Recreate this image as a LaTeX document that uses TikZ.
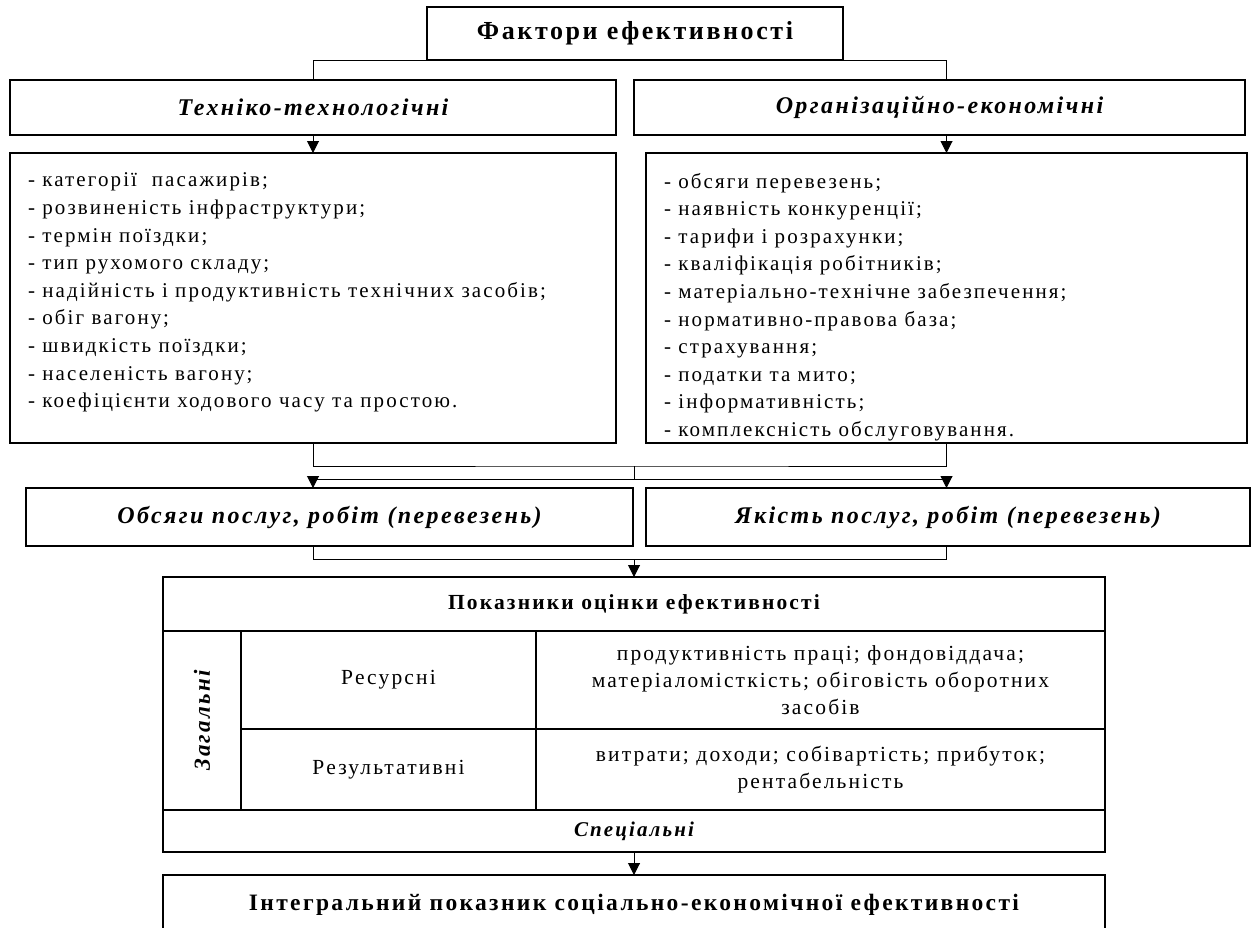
\documentclass[tikz,border=0pt]{standalone}
\usepackage{fontspec}
\setmainfont{Liberation Serif}[LetterSpace=10]
\usetikzlibrary{positioning}
\usetikzlibrary{arrows.meta}

\begin{document}
\begin{tikzpicture}[x=1pt,y=-1pt,>={Triangle[length=12pt,width=12pt]},
	box/.style={draw, line width=1.3pt, inner sep=0pt, outer sep=0pt},
	link/.style={line width=1pt},
	head node/.style={box, font=\fontsize{24}{28}\selectfont\bfseries\itshape},
	list node/.style={box, minimum height=290pt, font=\fontsize{21}{27.6}\selectfont},
	cell node/.style={box, align=center, font=\fontsize{21.5}{27}\selectfont}]
	\useasboundingbox (0,0) rectangle (1255,927);
	\clip (0,0) rectangle (1255,927);
	
	% Nodes
	\node[box, minimum width=416pt, minimum height=53pt, font=\fontsize{26}{30}\selectfont\bfseries] (fact) at (635,33.5) {Фактори ефективності};
	\node[head node, minimum width=606pt, minimum height=55pt] (tech) at (313,107.5) {Техніко-технологічні};
	\node[head node, minimum width=611pt, minimum height=55pt] (org) at (939.5,107.5) {Організаційно-економічні};
	
	\node[list node, minimum width=606pt] (techlist) at (313,298) {\parbox[c][290pt][t]{570pt}{\raggedright\vspace*{20pt}%
		- категорії\ \ пасажирів;\\
		- розвиненість інфраструктури;\\
		- термін поїздки;\\
		- тип рухомого складу;\\
		- надійність і продуктивність технічних засобів;\\
		- обіг вагону;\\
		- швидкість поїздки;\\
		- населеність вагону;\\
		- коефіцієнти ходового часу та простою.}};
	\node[list node, minimum width=601pt] (orglist) at (946.5,298) {\parbox[c][290pt][t]{565pt}{\raggedright\vspace*{20pt}%
		- обсяги перевезень;\\
		- наявність конкуренції;\\
		- тарифи і розрахунки;\\
		- кваліфікація робітників;\\
		- матеріально-технічне забезпечення;\\
		- нормативно-правова база;\\
		- страхування;\\
		- податки та мито;\\
		- інформативність;\\
		- комплексність обслуговування.}};
	
	\node[head node, minimum width=607pt, minimum height=58pt] (vol) at (329.5,517) {Обсяги послуг, робіт (перевезень)};
	\node[head node, minimum width=604pt, minimum height=58pt] (qual) at (948,517) {Якість послуг, робіт (перевезень)};
	
	% Table
	\node[box, minimum width=942pt, minimum height=54pt, font=\fontsize{21.5}{25}\selectfont\bfseries] (thead) at (634,604) {Показники оцінки ефективності};
	\node[box, rotate=90, minimum width=179pt, minimum height=78pt, font=\fontsize{23}{27}\selectfont\bfseries\itshape] (zag) at (202,720.5) {Загальні};
	\node[cell node, minimum width=295pt, minimum height=98pt] (res) at (388.5,680) {Ресурсні};
	\node[cell node, minimum width=569pt, minimum height=98pt] (resv) at (820.5,680) {продуктивність праці; фондовіддача;\\ матеріаломісткість; обіговість оборотних\\ засобів};
	\node[cell node, minimum width=295pt, minimum height=81pt] (rez) at (388.5,769.5) {Результативні};
	\node[cell node, minimum width=569pt, minimum height=81pt] (rezv) at (820.5,769.5) {витрати; доходи; собівартість; прибуток;\\ рентабельність};
	\node[box, minimum width=942pt, minimum height=42pt, font=\fontsize{21}{25}\selectfont\bfseries\itshape] (spec) at (634,831) {Спеціальні};
	
	\node[box, minimum width=942pt, minimum height=60pt, font=\fontsize{23.5}{27}\selectfont\bfseries] (integ) at (634,905) {Інтегральний показник соціально-економічної ефективності};
	
	\coordinate (j1) at (634,466);
	\coordinate (j2) at (634,479);
	\coordinate (j3) at (634,559);
	
	% Connectors
	\draw[link] (tech.north) |- (fact.south) -| (orglist.north |- org.north);
	\draw[link,->] (tech.south) -- (techlist.north);
	\draw[link,->] (orglist.north |- org.south) -- (orglist.north);
	
	\draw[link] (techlist.south) |- (j1) -| (orglist.south);
	\draw[link] (j1) -- (j2);
	\draw[link,->] (j2) -| (vol.north -| techlist.south);
	\draw[link,->] (j2) -| (qual.north -| orglist.south);
	
	\draw[link] (vol.south -| techlist.south) |- (j3);
	\draw[link] (qual.south -| orglist.south) |- (j3);
	\draw[link,->] (j3) -- (thead.north);
	\draw[link,->] (spec.south) -- (integ.north);
	
\end{tikzpicture}
\end{document}
